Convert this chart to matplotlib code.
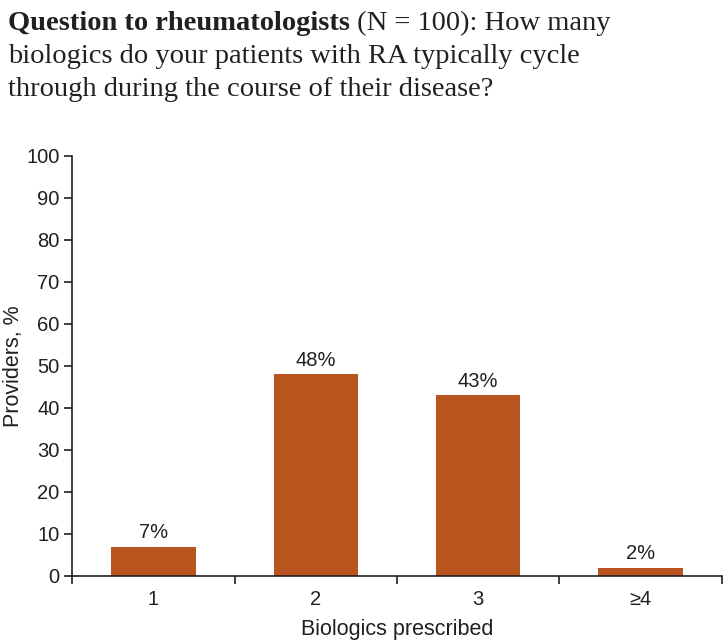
import matplotlib
matplotlib.use("Agg")
import matplotlib.pyplot as plt
from matplotlib import font_manager as fm

# data
categories = ["1", "2", "3", "\u22654"]
providers_pct = [7, 48, 43, 2]
bar_labels = ["7%", "48%", "43%", "2%"]

bar_color = "#B9541F"
ink = "#231F20"

names = {f.name for f in fm.fontManager.ttflist}
narrow = "Liberation Sans Narrow" if "Liberation Sans Narrow" in names else "Liberation Sans"
plt.rcParams["font.family"] = [narrow, "DejaVu Sans"]

fig = plt.figure(figsize=(7.23, 6.44), dpi=100)
ax = fig.add_axes([0.0996, 0.1056, 0.8990, 0.6522])

x = range(len(categories))
ax.bar(x, providers_pct, width=0.52, color=bar_color, zorder=2)
for xi, v, lab in zip(x, providers_pct, bar_labels):
    ax.text(xi, v + 1.0, lab, ha="center", va="bottom", fontsize=14.5, color=ink)

ax.set_xlim(-0.5, len(categories) - 0.5)
ax.set_ylim(0, 100)
ax.set_yticks(range(0, 101, 10))
ax.set_xticks(list(x))
ax.set_xticklabels(categories)
ax.set_xticks([i - 0.5 for i in range(len(categories) + 1)], minor=True)
ax.tick_params(axis="x", which="major", length=0, pad=10, labelsize=14.5, colors=ink)
ax.tick_params(axis="x", which="minor", length=6, width=1.2, color=ink)
ax.tick_params(axis="y", length=6, width=1.2, labelsize=14.5, colors=ink, pad=3)

for s in ["top", "right"]:
    ax.spines[s].set_visible(False)
for s in ["left", "bottom"]:
    ax.spines[s].set_color(ink)
    ax.spines[s].set_linewidth(1.2)

ax.set_ylabel("Providers, %", fontsize=15.5, color=ink)
ax.yaxis.set_label_coords(-0.074, 0.5)
ax.set_xlabel("Biologics prescribed", fontsize=15.5, color=ink)
ax.xaxis.set_label_coords(0.5, -0.103)

# title: bold lead-in followed by regular text, serif
serif = ["Liberation Serif", "DejaVu Serif"]
tsize = 20.5
y1 = 1 - 30 / 644
t1 = fig.text(0.011, y1, "Question to rheumatologists", fontsize=tsize,
              fontweight="bold", family=serif, color=ink, va="baseline")
ax.annotate(" (N = 100): How many", xy=(1, y1), xycoords=(t1, "figure fraction"),
            fontsize=tsize, family=serif, color=ink, va="baseline", ha="left",
            annotation_clip=False)
fig.text(0.011, y1 - 33 / 644, "biologics do your patients with RA typically cycle",
         fontsize=tsize, family=serif, color=ink, va="baseline")
fig.text(0.011, y1 - 66 / 644, "through during the course of their disease?",
         fontsize=tsize, family=serif, color=ink, va="baseline")

fig.savefig("out.png", dpi=100)
